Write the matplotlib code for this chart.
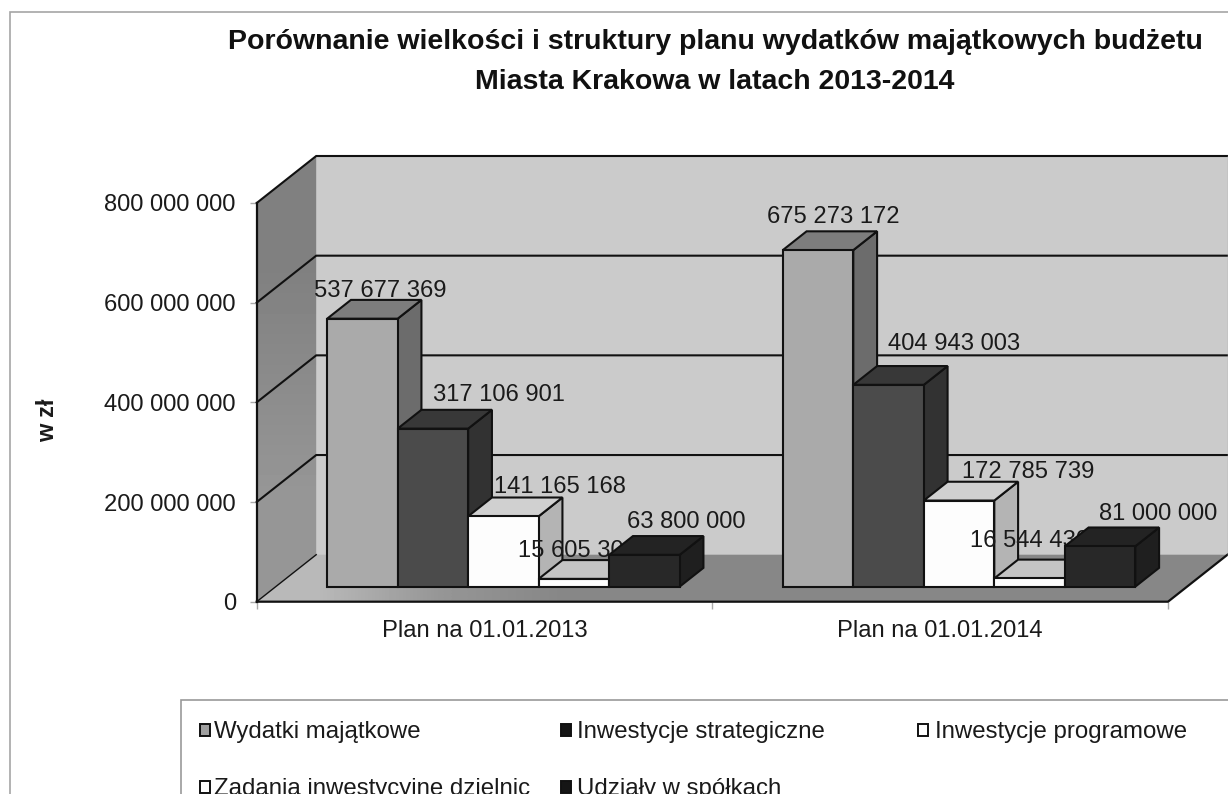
import matplotlib
matplotlib.use("Agg")
import numpy as np
import matplotlib.pyplot as plt
from matplotlib.patches import Polygon, Rectangle
from matplotlib.ticker import FuncFormatter

plt.rcParams['font.family'] = ['Liberation Sans', 'DejaVu Sans']

# ── Data ─────────────────────────────────────────────────────────────────────
TITLE = 'Porównanie wielkości i struktury planu wydatków majątkowych budżetu\nMiasta Krakowa w latach 2013-2014'
categories = ['Plan na 01.01.2013', 'Plan na 01.01.2014']
series_names = ['Wydatki majątkowe', 'Inwestycje strategiczne', 'Inwestycje programowe',
                'Zadania inwestycyjne dzielnic', 'Udziały w spółkach']
values_2013 = [537677369, 317106901, 141165168, 15605300, 63800000]
values_2014 = [675273172, 404943003, 172785739, 16544430, 81000000]
y_ticks = [0, 200000000, 400000000, 600000000, 800000000]

# ── Styles: front, top, side of each series ──────────────────────────────────
FACES = [('#aaaaaa', '#7d7d7d', '#6c6c6c'),
         ('#4b4b4b', '#383838', '#323232'),
         ('#fdfdfd', '#d0d0d0', '#b4b4b4'),
         ('#fdfdfd', '#c4c4c4', '#a8a8a8'),
         ('#282828', '#232323', '#1f1f1f')]
LEG_FACES = ['#a0a0a0', '#151515', '#ffffff', '#ffffff', '#151515']
# label offsets from the top-front centre of each bar, in pixels
LABEL_OFF = [[(18, 28), (66, 34), (57, 29), (3, 28), (42, 33)],
             [(15, 33), (66, 41), (69, 29), (0, 37), (58, 32)]]
FS = 17.1

W, H = 1228, 794
fig = plt.figure(figsize=(W / 100, H / 100), dpi=100, facecolor='white')

# overlay in pixel units for the frame, title and legend
ov = fig.add_axes([0, 0, 1, 1], zorder=0)
ov.set_xlim(0, W); ov.set_ylim(H, 0); ov.axis('off')

AX_L, AX_R, AX_0, AX_800 = 256.7, 1168.0, 601.7, 203.0
ax = fig.add_axes([AX_L / W, (H - AX_0) / H, (AX_R - AX_L) / W, (AX_0 - AX_800) / H], zorder=1)
ax.patch.set_visible(False)
for s in ax.spines.values():
    s.set_visible(False)

PX_X = (AX_R - AX_L) / 2          # pixels per category
PX_Y = (AX_0 - AX_800) / 800e6    # pixels per zł
DX = 59.5 / PX_X                  # full chart depth, in data units
DY = 47.0 / PX_Y

def proj(x, v, d=0.0):
    return (x + d * DX, v + d * DY)

def poly(pts, fc, ec='#111111', lw=1.5, z=1):
    p = Polygon(pts, closed=True, fc=fc, ec=ec, lw=lw, zorder=z, clip_on=False, joinstyle='miter')
    ax.add_patch(p)
    return p

def shaded(pts, grad, extent, z=1):
    # gradient image clipped to a face, allowed to leave the axes box
    p = poly(pts, 'none', ec='none', z=z)
    im = ax.imshow(grad, cmap='gray', vmin=0, vmax=255, extent=extent, aspect='auto',
                   origin='lower', zorder=z, interpolation='bilinear')
    im.set_clip_box(fig.bbox)
    im.set_clip_path(p)

# ── Walls, floor, grid ───────────────────────────────────────────────────────
TOP = y_ticks[-1]
poly([proj(0, 0, 1), proj(2, 0, 1), proj(2, TOP, 1), proj(0, TOP, 1)], '#cbcbcb', ec='none', z=1)
shaded([proj(0, 0), proj(0, 0, 1), proj(0, TOP, 1), proj(0, TOP)],
       np.array([[150.0], [128.0]]), (0, DX, 0, TOP + DY))
shaded([proj(0, 0), proj(2, 0), proj(2, 0, 1), proj(0, 0, 1)],
       np.array([[185.0, 150.0, 135.0, 135.0, 135.0, 135.0, 135.0, 135.0]]), (0, 2 + DX, 0, DY))

for v in y_ticks[1:]:
    ax.plot(*zip(proj(0, v), proj(0, v, 1), proj(2, v, 1)), color='#111111', lw=1.5,
            zorder=2, clip_on=False, solid_joinstyle='miter')
ax.plot(*zip(proj(0, 0), proj(0, TOP)), color='#111111', lw=1.6, zorder=2, clip_on=False)
ax.plot(*zip(proj(0, 0), proj(2, 0), proj(2, 0, 1)), color='#111111', lw=1.6, zorder=2,
        clip_on=False, solid_joinstyle='miter')
ax.plot(*zip(proj(0, 0), proj(0, 0, 1)), color='#111111', lw=1.0, zorder=2, clip_on=False)
ax.plot(*zip(proj(2, 0, 1), proj(2, TOP, 1)), color='#aaaaaa', lw=1.0, zorder=2, clip_on=False)

# ── Bars ─────────────────────────────────────────────────────────────────────
BAR_W = 70.5 / PX_X
GAP = 51.4 / PX_X
D0, D1 = 0.32, 0.72

for g, vals in enumerate([values_2013, values_2014]):
    for i, v in enumerate(vals):
        x0 = g + GAP + i * BAR_W
        x1 = x0 + BAR_W
        z = 10 + 3 * (5 * g + i)
        front, top, side = FACES[i]
        poly([proj(x1, 0, D0), proj(x1, 0, D1), proj(x1, v, D1), proj(x1, v, D0)], side, z=z)
        poly([proj(x0, v, D0), proj(x1, v, D0), proj(x1, v, D1), proj(x0, v, D1)], top, z=z)
        poly([proj(x0, 0, D0), proj(x1, 0, D0), proj(x1, v, D0), proj(x0, v, D0)], front, z=z + 1)
        label = f'{v:,}'.replace(',', ' ')
        ax.annotate(label, proj((x0 + x1) / 2, v, D0), xytext=LABEL_OFF[g][i],
                    textcoords='offset pixels', ha='center', va='center',
                    fontsize=FS, color='#1a1a1a', zorder=z + 2, annotation_clip=False)

# ── Axes decoration ──────────────────────────────────────────────────────────
ax.set_xlim(0, 2)
ax.set_ylim(0, 800000000)
ax.set_yticks(y_ticks)
ax.yaxis.set_major_formatter(FuncFormatter(lambda v, p: f'{int(v):,}'.replace(',', ' ')))
ax.set_xticks([0, 1, 2])
ax.set_xticklabels([])
ax.set_xticks([0.5, 1.5], minor=True)
ax.set_xticklabels(categories, minor=True)
ax.tick_params(axis='x', which='minor', length=0, pad=13.5, labelsize=FS, labelcolor='#1a1a1a')
ax.tick_params(axis='x', which='major', length=5, color='#aaaaaa', width=1)
ax.tick_params(axis='y', length=5, color='#aaaaaa', width=1, pad=10, labelsize=FS, labelcolor='#1a1a1a')

ov.text(48, 420, 'w zł', rotation=90, ha='center', va='center', fontsize=17, fontweight='bold', color='#1a1a1a')
ov.text(715, 62, TITLE, ha='center', va='center', fontsize=20.5, fontweight='bold',
        color='#111111', linespacing=1.72)

# ── Frame and legend ─────────────────────────────────────────────────────────
ov.plot([10, 10, W], [H, 12, 12], color='#a5a5a5', lw=1.2, solid_joinstyle='miter')
ov.plot([181, 181, W], [H, 700, 700], color='#999999', lw=1.2, solid_joinstyle='miter')

leg_x = [205, 566, 923, 205, 566]
leg_t = [214, 577, 935, 214, 577]
leg_y = [730, 730, 730, 787, 787]
for i, name in enumerate(series_names):
    ov.add_patch(Rectangle((leg_x[i] - 5, leg_y[i] - 6), 10, 12, fc=LEG_FACES[i], ec='#111111', lw=1.4))
    ov.text(leg_t[i], leg_y[i] + 2, name, ha='left', va='center', fontsize=FS + 0.2, color='#1a1a1a')

fig.savefig('out.png', dpi=100)
